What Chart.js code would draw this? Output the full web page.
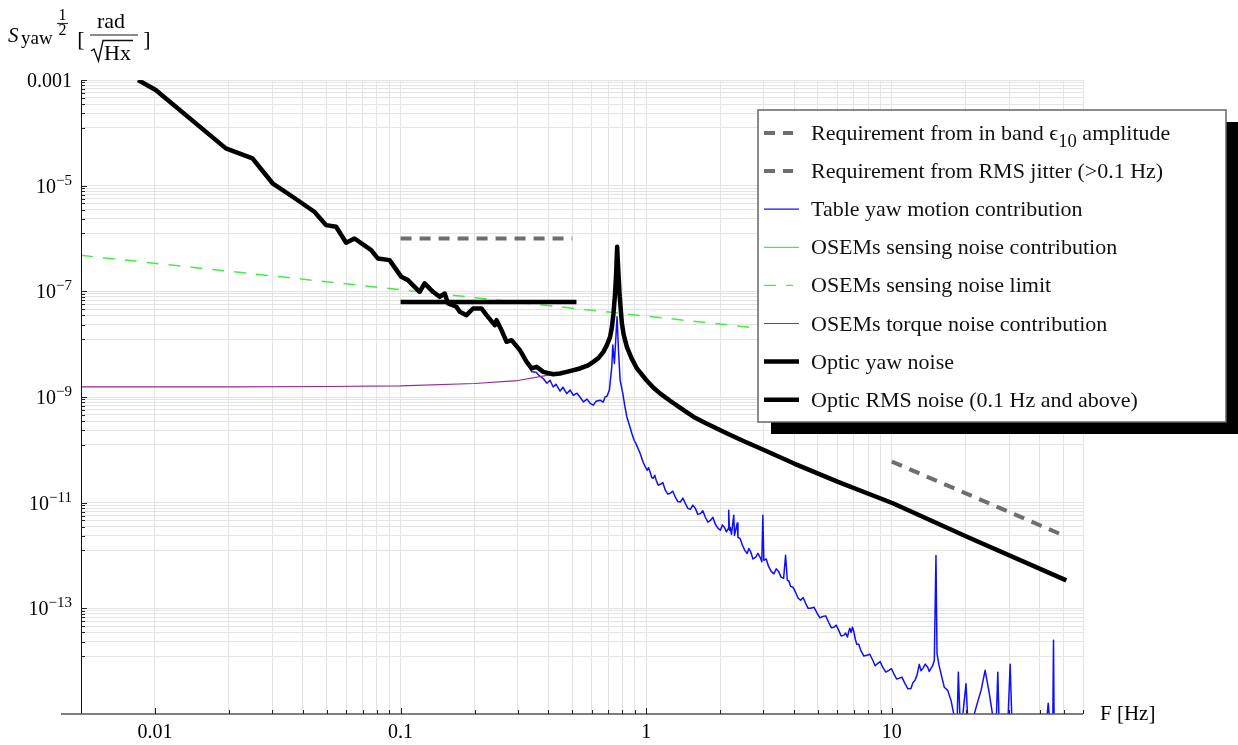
<!DOCTYPE html>
<html>
<head>
<meta charset="utf-8">
<script src="https://cdn.jsdelivr.net/npm/chart.js@4.4.1/dist/chart.umd.min.js"></script>
<style>
  html, body { margin: 0; padding: 0; background: #fff; }
  #wrap { position: relative; width: 1238px; height: 745px; }
</style>
</head>
<body>
<div id="wrap"><canvas id="psd"></canvas></div>
<script>
// [frequency Hz, amplitude rad/sqrt(Hz)]
const reqBand = [[10, 6e-11], [50, 2.4e-12]];
const reqRms = [[0.1, 1e-6], [0.5, 1e-6]];
const osemSensing = [];
const osemLimit = [[0.005, 4.8e-7], [60, 4.38e-9]];
const opticRms = [[0.1, 6.3e-8], [0.52, 6.3e-8]];

const tableYaw = [
  [0.306,7.7e-9],[0.326,4.62e-9],[0.342,2.99e-9],[0.356,2.95e-9],[0.369,2.48e-9],[0.381,2.24e-9],
  [0.394,1.82e-9],[0.406,2.08e-9],[0.418,1.55e-9],[0.429,1.75e-9],[0.446,1.29e-9],[0.458,1.53e-9],
  [0.475,1.16e-9],[0.490,1.35e-9],[0.505,1.08e-9],[0.523,1.18e-9],[0.538,9.9e-10],[0.555,8.07e-10],
  [0.574,9.1e-10],[0.591,7.6e-10],[0.609,7.0e-10],[0.625,8.3e-10],[0.649,8.7e-10],[0.668,8.0e-10],
  [0.680,1.0e-9],[0.693,1.04e-9],[0.708,1.35e-9],[0.724,3.72e-9],[0.731,9.6e-9],[0.742,4.31e-9],
  [0.754,1.6e-8],[0.761,3.29e-8],[0.771,7.7e-9],[0.783,2.08e-9],[0.803,1.16e-9],[0.817,7.0e-10],
  [0.834,4.2e-10],[0.852,3.05e-10],[0.874,2.04e-10],[0.893,1.52e-10],[0.910,1.28e-10],[0.945,8.5e-11],
  [0.972,5.8e-11],[1.007,4.1e-11],[1.022,4.6e-11],[1.038,3.77e-11],[1.053,3.0e-11],[1.068,2.9e-11],
  [1.083,3.3e-11],[1.098,2.66e-11],[1.119,2.15e-11],[1.141,2.23e-11],[1.168,2.4e-11],[1.196,1.72e-11],
  [1.224,1.45e-11],[1.253,1.51e-11],[1.283,1.65e-11],[1.314,1.27e-11],[1.345,1.05e-11],[1.377,1.03e-11],
  [1.41,1.22e-11],[1.443,9.7e-12],[1.477,7.8e-12],[1.512,7.5e-12],[1.548,9.0e-12],[1.585,7.8e-12],
  [1.623,6.0e-12],[1.661,6.2e-12],[1.70,7.0e-12],[1.741,5.3e-12],[1.783,4.3e-12],[1.825,4.6e-12],
  [1.868,5.3e-12],[1.912,3.9e-12],[1.958,3.3e-12],[2.004,3.0e-12],[2.043,3.8e-12],[2.082,3.4e-12],
  [2.12,2.8e-12],[2.161,3.27e-12],[2.167,7.2e-12],[2.182,3.0e-12],[2.20,3.4e-12],[2.223,2.5e-12],
  [2.272,5.8e-12],[2.287,2.4e-12],[2.346,4.1e-12],[2.363,2.2e-12],[2.41,2.1e-12],[2.465,1.56e-12],
  [2.52,1.25e-12],[2.576,1.09e-12],[2.617,1.35e-12],[2.658,1.2e-12],[2.72,8.6e-13],[2.786,9.2e-13],
  [2.85,1.1e-12],[2.920,8.9e-13],[2.955,7.6e-13],[2.984,5.8e-12],[3.012,8.1e-13],[3.08,8.6e-13],
  [3.148,6.2e-13],[3.228,5.0e-13],[3.309,4.5e-13],[3.383,5.6e-13],[3.458,5.0e-13],[3.54,3.9e-13],
  [3.625,3.7e-13],[3.693,1.01e-12],[3.753,3.4e-13],[3.81,3.3e-13],[3.871,2.6e-13],[3.962,2.5e-13],
  [4.057,2.0e-13],[4.155,1.55e-13],[4.253,1.42e-13],[4.354,1.6e-13],[4.457,1.25e-13],[4.563,1.0e-13],
  [4.671,1.0e-13],[4.82,1.05e-13],[4.974,7.9e-14],[5.10,6.6e-14],[5.228,7.0e-14],[5.38,7.2e-14],
  [5.534,5.4e-14],[5.67,4.3e-14],[5.814,4.4e-14],[5.94,4.8e-14],[6.077,3.83e-14],[6.22,3.0e-14],
  [6.370,3.08e-14],[6.48,3.4e-14],[6.596,2.86e-14],[6.67,3.6e-14],[6.740,4.2e-14],[6.83,3.5e-14],
  [6.913,4.4e-14],[6.998,3.67e-14],[7.10,2.6e-14],[7.197,2.08e-14],[7.33,2.1e-14],[7.473,1.6e-14],
  [7.69,1.25e-14],[7.907,1.29e-14],[8.13,1.35e-14],[8.364,1.04e-14],[8.55,8.2e-15],[8.742,8.97e-15],
  [8.96,9.8e-15],[9.190,7.6e-15],[9.45,6.2e-15],[9.723,6.7e-15],[9.97,7.2e-15],[10.22,5.6e-15],
  [10.45,4.6e-15],[10.68,4.72e-15],[10.99,5.0e-15],[11.30,3.8e-15],[11.63,3.0e-15],[11.96,3.05e-15],
  [12.18,3.9e-15],[12.41,4.3e-15],[12.67,5.5e-15],[12.93,8.7e-15],[13.15,6.6e-15],[13.38,7.3e-15],
  [13.68,8.8e-15],[13.99,7.7e-15],[14.2,6.4e-15],[14.43,7.3e-15],[14.66,8.2e-15],[14.89,1.04e-14],
  [15.12,1.0e-12],[15.27,1.39e-14],[15.56,8.3e-15],[15.85,5.8e-15],[16.35,3.2e-15],[16.88,2.8e-15],
  [17.41,1.81e-15],[17.91,9.4e-16],[18.42,6.1e-16],[18.65,6.2e-15],[18.95,7.6e-16],[19.49,1.07e-15],
  [20.04,3.75e-15],[20.42,6.1e-16],[21.41,8.3e-16],[22.44,1.81e-15],[23.08,2.8e-15],[23.97,6.7e-15],
  [24.89,2.56e-15],[25.84,8.3e-16],[26.58,6.1e-16],[27.0,6.2e-15],[27.34,6.1e-16],[28.65,6.1e-16],
  [29.75,9.4e-16],[30.31,8.7e-15],[30.89,4.9e-16],[33.6,3.2e-16],[36.9,3.2e-16],[42.5,6.1e-16],
  [43.3,1.59e-15],[44.1,6.1e-16],[45.2,6.1e-16],[45.5,2.48e-14],[45.8,4.9e-16],[49.0,3.2e-16],
  [60,3.2e-16]
];

const osemTorque = [
  [0.005,1.55e-9],[0.02,1.56e-9],[0.05,1.58e-9],[0.1,1.62e-9],[0.2,1.8e-9],[0.3,2.05e-9],
  [0.4,2.6e-9],[0.5,3.3e-9],[0.6,4.5e-9],[0.67,7e-9],[0.71,1.35e-8],[0.735,3.8e-8],
  [0.754,2.1e-7],[0.7614,6.9e-7],[0.771,2.1e-7],[0.796,2.4e-8],[0.834,8.8e-9],[0.916,3.4e-9],
  [1.14,1.15e-9],[1.56,4.2e-10],[2.92,1.05e-10],[10,9.7e-12],[51.3,3.38e-13]
];

const opticYaw = [
  [0.00853,1e-3],[0.01007,6.47e-4],[0.01944,5.08e-5],[0.02495,3.29e-5],[0.03012,1.11e-5],
  [0.03634,6.17e-6],[0.04456,3.21e-6],[0.04972,1.79e-6],[0.05464,1.67e-6],[0.06004,8.3e-7],
  [0.0649,1.0e-6],[0.07594,6.03e-7],[0.08078,4.2e-7],[0.09018,3.9e-7],[0.1007,1.88e-7],
  [0.1071,1.63e-7],[0.1122,1.31e-7],[0.1196,9.8e-8],[0.1253,1.41e-7],[0.1355,9.8e-8],
  [0.1442,7.87e-8],[0.1512,9.1e-8],[0.156,5.9e-8],[0.1688,5.1e-8],[0.1741,4.1e-8],
  [0.1854,3.54e-8],[0.1973,4.74e-8],[0.2135,4.74e-8],[0.2238,3.54e-8],[0.2418,2.29e-8],
  [0.2458,2.85e-8],[0.2576,1.84e-8],[0.27,1.11e-8],[0.283,1.19e-8],[0.306,7.7e-9],
  [0.3259,4.62e-9],[0.3416,3.47e-9],[0.358,3.72e-9],[0.381,2.99e-9],[0.4183,2.7e-9],
  [0.4457,2.79e-9],[0.4746,2.99e-9],[0.5378,3.47e-9],[0.58,3.95e-9],[0.6093,4.62e-9],
  [0.64,5.5e-9],[0.669,7.15e-9],[0.69,9.4e-9],[0.7129,1.37e-8],[0.725,2.1e-8],
  [0.7356,3.81e-8],[0.746,8.5e-8],[0.7544,2.18e-7],[0.7614,6.97e-7],[0.7707,2.18e-7],
  [0.78,8e-8],[0.796,2.47e-8],[0.81,1.5e-8],[0.8341,8.9e-9],[0.87,5.5e-9],[0.9163,3.47e-9],
  [1.0,2.1e-9],[1.07,1.5e-9],[1.141,1.16e-9],[1.25,8.5e-10],[1.4,5.9e-10],[1.56,4.2e-10],
  [1.75,3.2e-10],[2.135,2.04e-10],[2.5,1.45e-10],[2.92,1.06e-10],[4,5.5e-11],[6,2.5e-11],
  [10.09,9.75e-12],[20.42,2.21e-12],[51.3,3.39e-13]
];

const xLabels = ['0.01', '0.1', '1', '10'];
const yMajors = [1e-3, 1e-5, 1e-7, 1e-9, 1e-11, 1e-13];

const serif = '"Liberation Serif", "Times New Roman", serif';
const pts = rows => rows.map(([x, y]) => ({ x, y }));

function series(label, rows, color, width, dash, order) {
  return {
    label, data: pts(rows), borderColor: color, borderWidth: width,
    borderDash: dash || [], order, pointRadius: 0, tension: 0,
    borderCapStyle: 'butt', borderJoinStyle: 'round', fill: false
  };
}

const datasets = [
  series('Requirement from in band \u03f5_{10} amplitude', reqBand, 'rgb(110,110,110)', 4, [11, 8], 2),
  series('Requirement from RMS jitter (>0.1 Hz)', reqRms, 'rgb(110,110,110)', 4, [11, 8], 2),
  series('Table yaw motion contribution', tableYaw, 'rgb(15,15,255)', 1.5, null, 5),
  series('OSEMs sensing noise contribution', osemSensing, 'rgb(70,235,70)', 1.3, null, 4),
  series('OSEMs sensing noise limit', osemLimit, 'rgb(70,235,70)', 1.5, [12, 10], 4),
  series('OSEMs torque noise contribution', osemTorque, 'rgb(150,40,150)', 1.2, null, 3),
  series('Optic yaw noise', opticYaw, '#000', 4.5, null, 0),
  series('Optic RMS noise (0.1 Hz and above)', opticRms, '#000', 4.5, null, 1)
];
datasets[2].clip = 0;

// text with optional _{subscript}
function richText(ctx, text, x, y, size) {
  const parts = text.split(/_\{([^}]*)\}/);
  parts.forEach((p, i) => {
    if (i % 2) {
      ctx.font = `${size * 0.85}px ${serif}`;
      ctx.fillText(p, x, y + size * 0.3);
    } else {
      ctx.font = `${size}px ${serif}`;
      ctx.fillText(p, x, y);
    }
    x += ctx.measureText(p).width;
  });
}

const isDecade = v => Math.abs(Math.log10(v) - Math.round(Math.log10(v))) < 1e-6;

const decor = {
  id: 'decor',
  afterDraw(chart) {
    const { ctx, chartArea: a, scales: { x, y } } = chart;
    ctx.save();

    // axes
    ctx.strokeStyle = '#111';
    ctx.lineWidth = 1;
    ctx.beginPath();
    ctx.moveTo(a.left + 0.5, a.top);
    ctx.lineTo(a.left + 0.5, a.bottom);
    ctx.stroke();
    ctx.strokeStyle = '#555';
    ctx.lineWidth = 1.6;
    ctx.beginPath();
    ctx.moveTo(a.left - 20, a.bottom);
    ctx.lineTo(a.right, a.bottom);
    ctx.stroke();

    // tick marks
    ctx.lineWidth = 1;
    ctx.strokeStyle = '#222';
    x.ticks.forEach(t => {
      const px = Math.round(x.getPixelForValue(t.value)) + 0.5;
      const len = isDecade(t.value) ? 6 : 4;
      ctx.beginPath();
      ctx.moveTo(px, a.bottom);
      ctx.lineTo(px, a.bottom - len);
      ctx.stroke();
    });
    y.ticks.forEach(t => {
      const py = Math.round(y.getPixelForValue(t.value)) + 0.5;
      const len = isDecade(t.value) ? 6 : 4;
      ctx.beginPath();
      ctx.moveTo(a.left, py);
      ctx.lineTo(a.left + len, py);
      ctx.stroke();
    });

    // tick labels
    ctx.fillStyle = '#000';
    ctx.textBaseline = 'alphabetic';
    ctx.textAlign = 'center';
    ctx.font = `20px ${serif}`;
    xLabels.forEach(s => ctx.fillText(s, x.getPixelForValue(parseFloat(s)), 738));
    ctx.textAlign = 'right';
    yMajors.forEach(v => {
      const py = y.getPixelForValue(v);
      const e = Math.round(Math.log10(v));
      if (e === -3) {
        ctx.font = `20px ${serif}`;
        ctx.fillText('0.001', 72, py + 7);
        return;
      }
      const sup = '\u2212' + (-e);
      ctx.font = `15px ${serif}`;
      ctx.fillText(sup, 72, py - 1);
      const w = ctx.measureText(sup).width;
      ctx.font = `20px ${serif}`;
      ctx.fillText('10', 72 - w, py + 7);
    });

    // axis titles
    ctx.textAlign = 'left';
    ctx.font = `21px ${serif}`;
    ctx.fillText('F [Hz]', 1100, 720);

    ctx.font = `italic 21px ${serif}`;
    ctx.fillText('S', 8, 42);
    ctx.font = `19px ${serif}`;
    ctx.fillText('yaw', 21, 44);
    ctx.textAlign = 'center';
    ctx.font = `16px ${serif}`;
    ctx.fillText('1', 62.5, 20);
    ctx.fillText('2', 62.5, 35);
    ctx.strokeStyle = '#333';
    ctx.lineWidth = 1.2;
    ctx.beginPath();
    ctx.moveTo(57, 23.5); ctx.lineTo(68, 23.5);
    ctx.stroke();
    ctx.font = `22px ${serif}`;
    ctx.fillText('[', 81, 46);
    ctx.fillText(']', 147, 46);
    ctx.fillText('rad', 111, 28);
    ctx.lineWidth = 1.5;
    ctx.strokeStyle = '#666';
    ctx.beginPath();
    ctx.moveTo(90, 35); ctx.lineTo(138, 35);
    ctx.stroke();
    // square root sign over Hx
    ctx.strokeStyle = '#111';
    ctx.lineWidth = 1.4;
    ctx.beginPath();
    ctx.moveTo(91, 51); ctx.lineTo(94, 49); ctx.lineTo(98.5, 61);
    ctx.lineTo(103, 40.5); ctx.lineTo(133, 40.5);
    ctx.stroke();
    ctx.textAlign = 'left';
    ctx.fillText('Hx', 104, 60);

    // legend with drop shadow
    const bx = 758, by = 110, bw = 468, bh = 312;
    ctx.fillStyle = '#000';
    ctx.fillRect(bx + 13, by + 12, bw, bh);
    ctx.fillStyle = '#fff';
    ctx.fillRect(bx, by, bw, bh);
    ctx.strokeStyle = '#666';
    ctx.lineWidth = 1.5;
    ctx.strokeRect(bx, by, bw, bh);

    chart.data.datasets.forEach((ds, i) => {
      const ly = 133 + i * 38.1;
      ctx.save();
      ctx.strokeStyle = ds.borderColor;
      ctx.lineWidth = Math.min(ds.borderWidth, ds.borderWidth > 2 ? 4.5 : 1.2);
      ctx.setLineDash(ds.borderDash);
      ctx.lineCap = 'butt';
      ctx.beginPath();
      ctx.moveTo(764, ly);
      ctx.lineTo(ds.borderDash.length ? 793 : 799, ly);
      ctx.stroke();
      ctx.restore();
      ctx.fillStyle = '#111';
      ctx.textAlign = 'left';
      richText(ctx, ds.label, 811, ly + 7, 22);
    });

    ctx.restore();
  }
};

const xTicks = [];
[0.01, 0.1, 1, 10].forEach(d => {
  for (let k = 1; k <= 9; k++) if (k * d <= 60) xTicks.push(k * d);
});
const yTicks = [];
yMajors.forEach(v => {
  yTicks.push(v);
  [0.9, 0.79, 0.68, 0.57, 0.46, 0.35, 0.235, 0.125].forEach(m => yTicks.push(v * m));
});

new Chart(document.getElementById('psd'), {
  type: 'line',
  data: { datasets },
  options: {
    responsive: true,
    maintainAspectRatio: false,
    animation: false,
    devicePixelRatio: 1,
    layout: { padding: { top: 80, right: 155, bottom: 0, left: 0 } },
    plugins: { legend: { display: false }, tooltip: { enabled: false } },
    scales: {
      x: {
        type: 'logarithmic',
        min: 0.005,
        max: 60,
        ticks: { display: false },
        grid: { color: 'rgb(228,228,228)', drawTicks: false },
        border: { display: false },
        afterBuildTicks: s => { s.ticks = xTicks.map(value => ({ value })); },
        afterFit: s => { s.height = 31; }
      },
      y: {
        type: 'logarithmic',
        min: 1e-15,
        max: 1e-3,
        ticks: { display: false },
        grid: { color: 'rgb(228,228,228)', drawTicks: false },
        border: { display: false },
        afterBuildTicks: s => { s.ticks = yTicks.map(value => ({ value })); },
        afterFit: s => { s.width = 81; }
      }
    }
  },
  plugins: [decor]
});
</script>
</body>
</html>
